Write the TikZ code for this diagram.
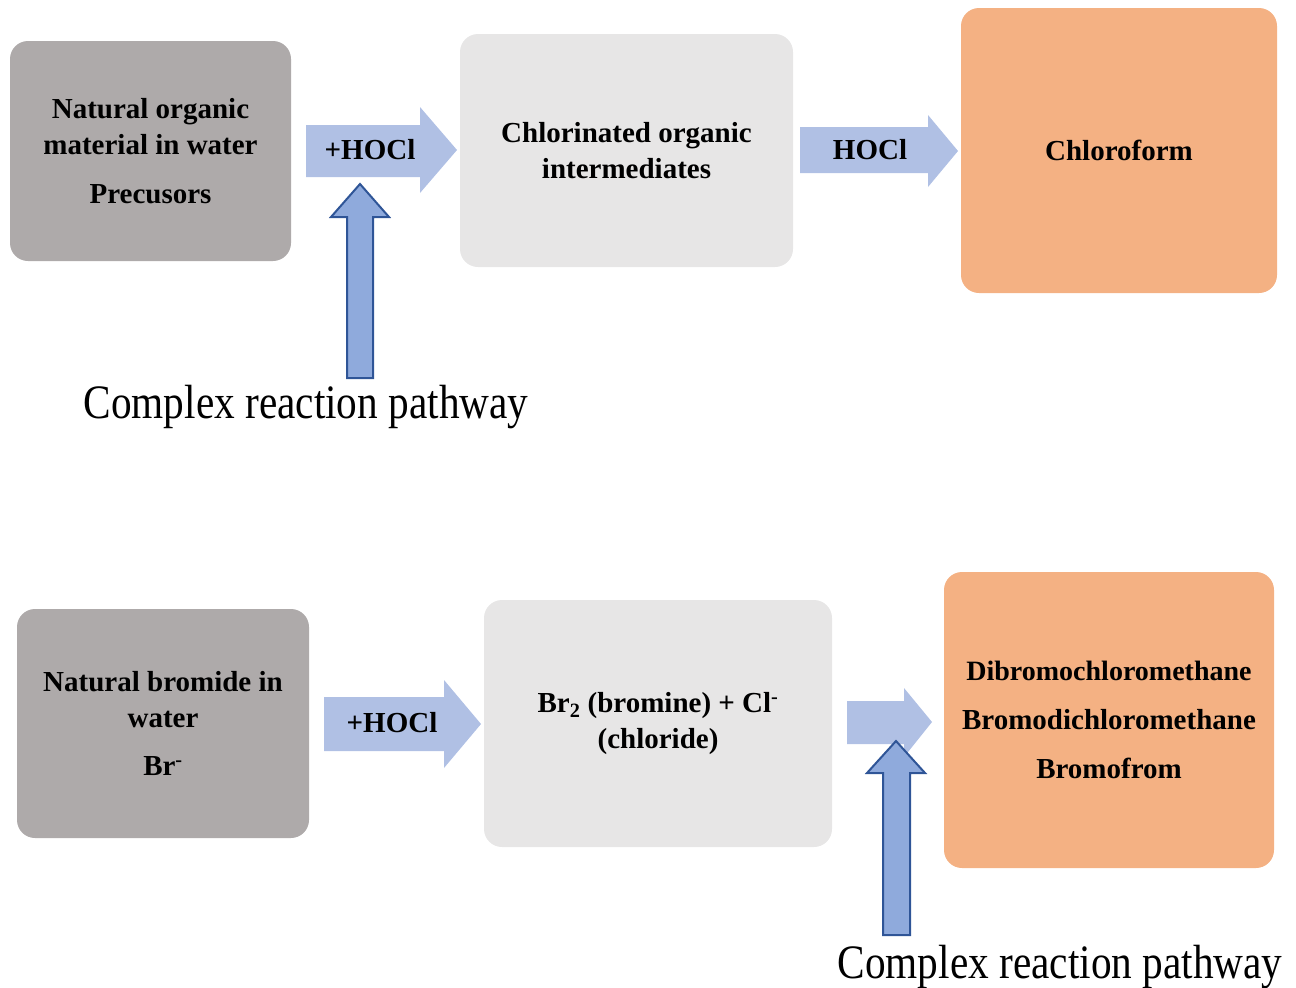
\documentclass[tikz,border=0pt]{standalone}
\usepackage{fontspec}
\setmainfont{Liberation Serif}
\definecolor{boxgray}{HTML}{AEAAAA}
\definecolor{boxlight}{HTML}{E7E6E6}
\definecolor{boxorange}{HTML}{F4B183}
\definecolor{arrowpale}{HTML}{B0C0E4}
\definecolor{arrowblue}{HTML}{8FAADC}
\definecolor{arrowedge}{HTML}{2F5597}
\tikzset{
  box/.style={rounded corners=18pt, inner sep=0pt, align=center,
    font=\fontsize{29}{36}\selectfont\bfseries},
  hlabel/.style={font=\fontsize{29}{36}\selectfont\bfseries, inner sep=0pt},
  blockarrow/.style={fill=arrowpale, draw=none},
  uparrow/.style={fill=arrowblue, draw=arrowedge, line width=2pt, line join=miter},
  pathlabel/.style={font=\fontsize{48}{50}\selectfont, inner sep=0pt, anchor=base}
}
\begin{document}
\begin{tikzpicture}[x=1pt,y=-1pt]
\useasboundingbox (0,0) rectangle (1296,988);
% ---------- top row ----------
\node[box, fill=boxgray, minimum width=281pt, minimum height=220pt] (nom) at (150.5,151)
  {Natural organic\\material in water\\[13pt]Precusors};
\node[box, fill=boxlight, minimum width=333pt, minimum height=233pt] (cli) at (626.5,150.5)
  {Chlorinated organic\\intermediates};
\node[box, fill=boxorange, minimum width=316pt, minimum height=285pt] (chf) at (1119,150.5)
  {Chloroform};
% block arrows top
\draw[blockarrow] (306,125) -- (420,125) -- (420,107) -- (457,150) -- (420,193) -- (420,177) -- (306,177) -- cycle;
\node[hlabel] (h1) at (370,150) {+HOCl};
\draw[blockarrow] (800,127) -- (928,127) -- (928,115) -- (958,151) -- (928,187) -- (928,173) -- (800,173) -- cycle;
\node[hlabel] (h2) at (870,150) {HOCl};
% up arrow top
\draw[uparrow] (347,378) -- (373,378) -- (373,217) -- (389,217) -- (360,184) -- (331,217) -- (347,217) -- cycle;
\node[pathlabel] (crp1) at (306,418) {\scalebox{0.86}[1]{Complex reaction pathway}};
% ---------- bottom row ----------
\node[box, fill=boxgray, minimum width=292pt, minimum height=229pt] (nbr) at (163,723.5)
  {Natural bromide in\\water\\[12pt]Br\textsuperscript{-}};
\node[box, fill=boxlight, minimum width=348pt, minimum height=247pt] (brc) at (658,723.5)
  {Br\textsubscript{2} (bromine) + Cl\textsuperscript{-}\\(chloride)};
\node[box, fill=boxorange, minimum width=330pt, minimum height=296pt] (thm) at (1109,720)
  {\fontsize{28}{36}\selectfont Dibromochloromethane\\[13pt]Bromodichloromethane\\[13pt]Bromofrom};
% block arrows bottom
\draw[blockarrow] (324,697) -- (444,697) -- (444,680) -- (481,724) -- (444,768) -- (444,751) -- (324,751) -- cycle;
\node[hlabel] (h3) at (392,723) {+HOCl};
\draw[blockarrow] (847,701) -- (904,701) -- (904,688) -- (932,722) -- (904,757) -- (904,744) -- (847,744) -- cycle;
% up arrow bottom
\draw[uparrow] (883,935) -- (910,935) -- (910,773) -- (925,773) -- (896,741) -- (867,773) -- (883,773) -- cycle;
\node[pathlabel] (crp2) at (1060,978) {\scalebox{0.86}[1]{Complex reaction pathway}};
\end{tikzpicture}
\end{document}
